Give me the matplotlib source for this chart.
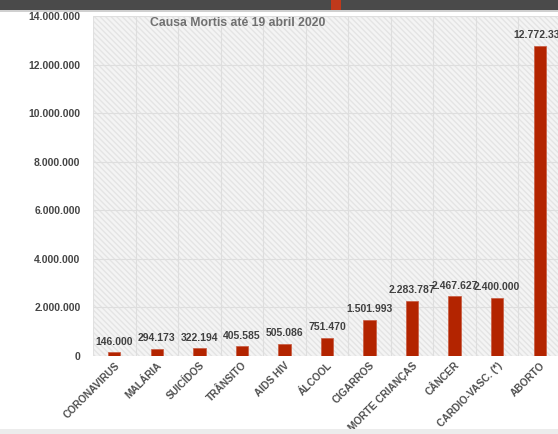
import matplotlib
matplotlib.use('Agg')
import matplotlib.pyplot as plt
from matplotlib.patches import Rectangle

# dados
causas = ['CORONAVIRUS', 'MALÁRIA', 'SUICÍDOS', 'TRÂNSITO', 'AIDS HIV', 'ÁLCOOL',
          'CIGARROS', 'MORTE CRIANÇAS', 'CÂNCER', 'CARDIO-VASC. (*)', 'ABORTO']
mortes = [146000, 294173, 322194, 405585, 505086, 751470,
          1501993, 2283787, 2467627, 2400000, 12772335]
y_ticks = [0, 2000000, 4000000, 6000000, 8000000, 10000000, 12000000, 14000000]


def fmt(v):
    return '{:,}'.format(v).replace(',', '.')


plt.rcParams['font.family'] = ['Liberation Sans', 'DejaVu Sans']

fig = plt.figure(figsize=(5.58, 4.34), dpi=100)
fig.patch.set_facecolor('white')

# faixa escura no topo e barra cinza embaixo (captura de tela)
fig.patches.append(Rectangle((0, 1 - 10 / 434), 1, 10 / 434, transform=fig.transFigure,
                             facecolor='#4a4a4a', edgecolor='none', zorder=0))
fig.patches.append(Rectangle((331 / 558, 1 - 10 / 434), 10 / 558, 10 / 434, transform=fig.transFigure,
                             facecolor='#c0391b', edgecolor='none', zorder=1))
fig.patches.append(Rectangle((0, 1 - 12 / 434), 1, 1.5 / 434, transform=fig.transFigure,
                             facecolor='#d0d0d0', edgecolor='none', zorder=0))
fig.patches.append(Rectangle((0, 0), 1, 5 / 434, transform=fig.transFigure,
                             facecolor='#ececec', edgecolor='none', zorder=0))

ax = fig.add_axes([93 / 558, 78 / 434, 468 / 558, 340 / 434])
ax.set_facecolor('#f4f4f4')
ax.add_patch(Rectangle((0, 0), 1, 1, transform=ax.transAxes, facecolor='none',
                       edgecolor='#e4e4e4', hatch='\\\\\\\\\\\\', linewidth=0, zorder=0))

x = list(range(len(causas)))
ax.bar(x, mortes, width=0.29, color='#b32400', edgecolor='#c85a40', linewidth=0.5, zorder=3)

for xi, v in zip(x, mortes):
    ax.annotate(fmt(v), (xi, v), xytext=(0, 4), textcoords='offset points',
                ha='center', va='bottom', fontsize=7.5, fontweight='bold', color='#404040', zorder=4)

ax.set_xlim(-0.5, len(causas) - 0.5)
ax.set_ylim(0, 14000000)
ax.set_yticks(y_ticks)
ax.set_yticklabels([fmt(v) for v in y_ticks], fontsize=7.5, fontweight='bold', color='#454545')
ax.set_xticks(x)
ax.set_xticklabels(causas, rotation=45, ha='right', va='top', rotation_mode='anchor',
                   fontsize=7.3, fontweight='bold', color='#505050')
ax.tick_params(axis='y', length=0, pad=9)
ax.tick_params(axis='x', length=0, pad=3)

ax.set_xticks([i + 0.5 for i in x[:-1]], minor=True)
ax.grid(True, axis='y', color='#dedede', linewidth=0.8, zorder=1)
ax.grid(True, axis='x', which='minor', color='#dedede', linewidth=0.8, zorder=1)
ax.tick_params(axis='x', which='minor', length=0)
ax.set_axisbelow(True)
for s in ax.spines.values():
    s.set_visible(False)
ax.axvline(-0.5, color='#e0e0e0', linewidth=0.8)

ax.text(0.122, 0.997, 'Causa Mortis até 19 abril 2020', transform=ax.transAxes,
        ha='left', va='top', fontsize=8.8, fontweight='bold', color='#707070')

fig.savefig('out.png', dpi=100)
